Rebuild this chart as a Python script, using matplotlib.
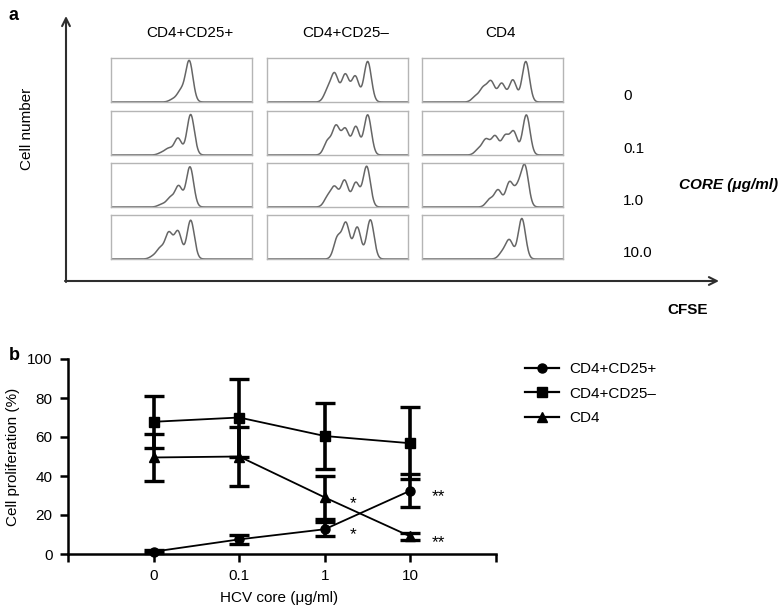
import numpy as np
import matplotlib
matplotlib.use('Agg')
import matplotlib.pyplot as plt
from matplotlib.lines import Line2D

plt.rcParams['font.family'] = ['Liberation Sans', 'DejaVu Sans']

# panel a: CFSE histograms, peaks read as (position, height) per histogram
subsets = ['CD4+CD25+', 'CD4+CD25–', 'CD4']
doses_a = ['0', '0.1', '1.0', '10.0']
peaks_cd25pos = [
    [(44, 0.06), (49.5, 0.24), (55.5, 0.93)],
    [(36, 0.05), (41, 0.14), (47.5, 0.38), (56.5, 0.92)],
    [(36, 0.06), (42, 0.20), (48, 0.47), (56, 0.91)],
    [(30, 0.06), (35, 0.23), (41, 0.58), (47.5, 0.62), (56.5, 0.88)],
]
peaks_cd25neg = [
    [(43, 0.25), (48, 0.62), (55.5, 0.62), (62.6, 0.58), (71.4, 0.92)],
    [(43, 0.31), (49, 0.64), (55.5, 0.58), (63, 0.64), (71.4, 0.91)],
    [(43, 0.21), (48, 0.43), (55, 0.60), (63, 0.55), (70.7, 0.92)],
    [(50, 0.48), (56, 0.80), (64, 0.72), (73.3, 0.89)],
]
peaks_cd4 = [
    [(38, 0.12), (43.5, 0.30), (49, 0.45), (56.5, 0.42), (64.4, 0.50), (73.6, 0.92)],
    [(40, 0.12), (45.4, 0.34), (51.8, 0.42), (59, 0.42), (65, 0.52), (74, 0.91)],
    [(48, 0.17), (54, 0.38), (62, 0.55), (68, 0.40), (73, 0.90)],
    [(57, 0.14), (62, 0.42), (70.8, 0.92)],
]
hist_peaks = [peaks_cd25pos, peaks_cd25neg, peaks_cd4]
peak_sd = 2.6

# panel b: proliferation
doses_b = ['0', '0.1', '1', '10']
cd25pos = [1.2, 7.5, 12.7, 32.5]
cd25pos_err = [0.8, 2.2, 3.5, 8.5]
cd25neg = [67.8, 70.0, 60.5, 56.8]
cd25neg_err = [13.4, 20.0, 17.0, 18.5]
cd4 = [49.5, 50.0, 29.0, 9.0]
cd4_err = [12.2, 15.0, 11.0, 1.9]
stars = [(2, 29.0, '*'), (2, 12.8, '*'), (3, 32.5, '**'), (3, 9.0, '**')]

W, H = 784, 609
fig = plt.figure(figsize=(W / 100, H / 100), dpi=100)

def px_axes(x0, y0, x1, y1):
    return fig.add_axes([x0 / W, 1 - y1 / H, (x1 - x0) / W, (y1 - y0) / H])

over = fig.add_axes([0, 0, 1, 1])
over.set_xlim(0, W)
over.set_ylim(H, 0)
over.set_axis_off()

# arrows of panel a
arr = dict(arrowstyle='->', color='#2e2e2e', lw=1.5, shrinkA=0, shrinkB=0, mutation_scale=14)
over.annotate('', xy=(66, 16), xytext=(66, 282), arrowprops=arr)
over.annotate('', xy=(719, 281), xytext=(65, 281), arrowprops=arr)

over.text(9, 16, 'a', fontsize=13, fontweight='bold', va='center')
over.text(9, 355, 'b', fontsize=13, fontweight='bold', va='center')
over.text(27, 129, 'Cell number', rotation=90, fontsize=11, ha='center', va='center')
over.text(688, 310, 'CFSE', fontsize=11, fontweight='bold', ha='center', va='center')
over.text(679, 185, 'CORE (μg/ml)', fontsize=11, fontweight='bold', style='italic',
          ha='left', va='center')

col_left = [111, 267, 422]
row_top = [58, 111, 163, 215]
box_w, box_h = 141, 44
xs = np.linspace(0, 100, 500)
for c, name in enumerate(subsets):
    over.text(col_left[c] + box_w / 2 + 8, 33, name, fontsize=11, ha='center', va='center')
    for r in range(4):
        ax = px_axes(col_left[c], row_top[r], col_left[c] + box_w, row_top[r] + box_h)
        ys = np.zeros_like(xs)
        for pos, h in hist_peaks[c][r]:
            ys += h * np.exp(-(xs - pos) ** 2 / (2 * peak_sd ** 2))
        ax.plot(xs, ys, color='#666666', lw=1.1)
        ax.set_xlim(0, 100)
        ax.set_ylim(0, 1)
        ax.set_xticks([])
        ax.set_yticks([])
        for s in ax.spines.values():
            s.set_color('#b5b5b5')
            s.set_linewidth(1.0)

for r, d in enumerate(doses_a):
    over.text(623, row_top[r] + 38, d, fontsize=11, ha='left', va='center')

# panel b
axb = px_axes(68, 359, 496, 554)
xpos = np.arange(1, len(doses_b) + 1)
series = [
    ('CD4+CD25+', cd25pos, cd25pos_err, 'o'),
    ('CD4+CD25–', cd25neg, cd25neg_err, 's'),
    ('CD4', cd4, cd4_err, '^'),
]
handles = []
for label, vals, errs, m in series:
    axb.errorbar(xpos, vals, yerr=errs, color='black', marker=m, markersize=6.5,
                 lw=1.3, elinewidth=2.6, capsize=7, capthick=2.4, clip_on=False)
    handles.append(Line2D([], [], color='black', marker=m, markersize=6.5, lw=1.6, label=label))

for i, y, s in stars:
    axb.text(xpos[i] + 0.33, y - 3, s, fontsize=12.5, ha='center', va='center')

axb.set_xlim(0, 5)
axb.set_ylim(0, 100)
axb.set_xticks([0, 1, 2, 3, 4, 5])
axb.set_xticklabels([''] + doses_b + [''])
axb.set_yticks([0, 20, 40, 60, 80, 100])
axb.spines['top'].set_visible(False)
axb.spines['right'].set_visible(False)
for s in ['left', 'bottom']:
    axb.spines[s].set_linewidth(1.8)
axb.tick_params(width=1.8, length=6, labelsize=11, pad=5)
axb.set_ylabel('Cell proliferation (%)', fontsize=11)
axb.yaxis.set_label_coords(-0.112, 0.5)
axb.set_xlabel('HCV core (μg/ml)', fontsize=11)
axb.xaxis.set_label_coords(0.493, -0.19)

fig.legend(handles=handles, loc='upper left', bbox_to_anchor=(525 / W, 1 - 362 / H),
           frameon=False, fontsize=11, handlelength=2.2, handletextpad=0.7,
           labelspacing=0.7, borderpad=0, borderaxespad=0)

fig.savefig('out.png', dpi=100)
